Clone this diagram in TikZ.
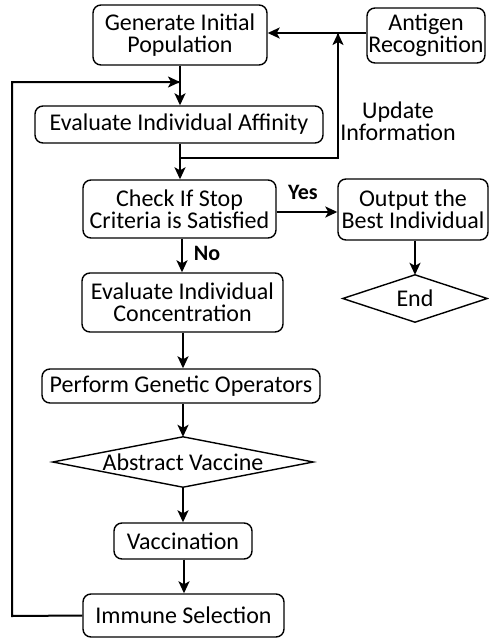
\documentclass[tikz,border=0pt]{standalone}
\usepackage{fontspec}
\setmainfont{Carlito}
\usetikzlibrary{arrows.meta}
\begin{document}
\begin{tikzpicture}[x=1pt,y=-1pt,
  every node/.style={font=\fontsize{24}{22}\selectfont, align=center, inner sep=0pt},
  box/.style={draw, rounded corners=8pt, line width=1.4pt},
  shp/.style={draw=none},
  lbl/.style={font=\fontsize{22}{22}\selectfont\bfseries},
  conn/.style={line width=2pt, -{Stealth[length=12pt,width=11pt,inset=3pt]}},
  line/.style={line width=2pt}]
\useasboundingbox (0,0) rectangle (489,641);
% nodes
\node[box, minimum width=174, minimum height=60] (gen) at (180,35) {Generate Initial\\Population};
\node[box, minimum width=118, minimum height=55] (ant) at (426,35.5) {Antigen\\Recognition};
\node[box, minimum width=288, minimum height=37] (eval) at (179,124.5) {Evaluate Individual Affinity};
\node[box, minimum width=193, minimum height=58] (check) at (179.5,209) {Check If Stop\\Criteria is Satisfied};
\node[box, minimum width=150, minimum height=61] (out) at (413,209.5) {Output the\\Best Individual};
\node[shp, minimum width=144, minimum height=47] (end) at (415,298.5) {End};
\draw[line width=1.4pt] (end.north) -- (end.east) -- (end.south) -- (end.west) -- cycle;
\node[box, minimum width=201, minimum height=59] (conc) at (182.5,302.5) {Evaluate Individual\\Concentration};
\node[box, minimum width=278, minimum height=34] (perf) at (181,386) {Perform Genetic Operators};
\node[shp, minimum width=260, minimum height=50] (abs) at (183,462) {Abstract Vaccine};
\draw[line width=1.4pt] (abs.north) -- (abs.east) -- (abs.south) -- (abs.west) -- cycle;
\node[box, minimum width=138, minimum height=36] (vacc) at (183,541) {Vaccination};
\node[box, minimum width=201, minimum height=43] (imm) at (183.5,615.5) {Immune Selection};
\node (upd) at (398,121) {Update\\Information};
\node[lbl] (yes) at (303,192) {Yes};
\node[lbl] (no) at (207,253) {No};
% helper coordinates
\coordinate (fbA) at (12,616);
\coordinate (fbB) at (12,82);
\coordinate (fbC) at (180,82);
\coordinate (upA) at (180,158);
\coordinate (upB) at (338,158);
\coordinate (upC) at (338,33);
% connectors
\draw[conn] (gen.south -| 180,0) -- (eval.north -| 180,0);
\draw[conn] (eval.south -| 180,0) -- (check.north -| 180,0);
\draw[line] (imm.west) -- (fbA) -- (fbB) -- ([xshift=-1pt]fbC);
\draw[conn] (fbB) -- (fbC);
\draw[line] (upA) -- (upB) -- (upC);
\draw[conn] (upB) -- (upC);
\draw[conn] (ant.west |- 0,33) -- (gen.east |- 0,33);
\draw[conn] (check.east |- 0,212) -- (out.west |- 0,212);
\draw[conn] (out.south -| end.north) -- (end.north);
\draw[conn] (check.south -| 182,0) -- (conc.north -| 182,0);
\draw[conn] (conc.south -| 183,0) -- (perf.north -| 183,0);
\draw[conn] (perf.south -| abs.north) -- (abs.north);
\draw[conn] (abs.south) -- (vacc.north -| abs.south);
\draw[conn] (vacc.south -| 184,0) -- (imm.north -| 184,0);
\end{tikzpicture}
\end{document}
